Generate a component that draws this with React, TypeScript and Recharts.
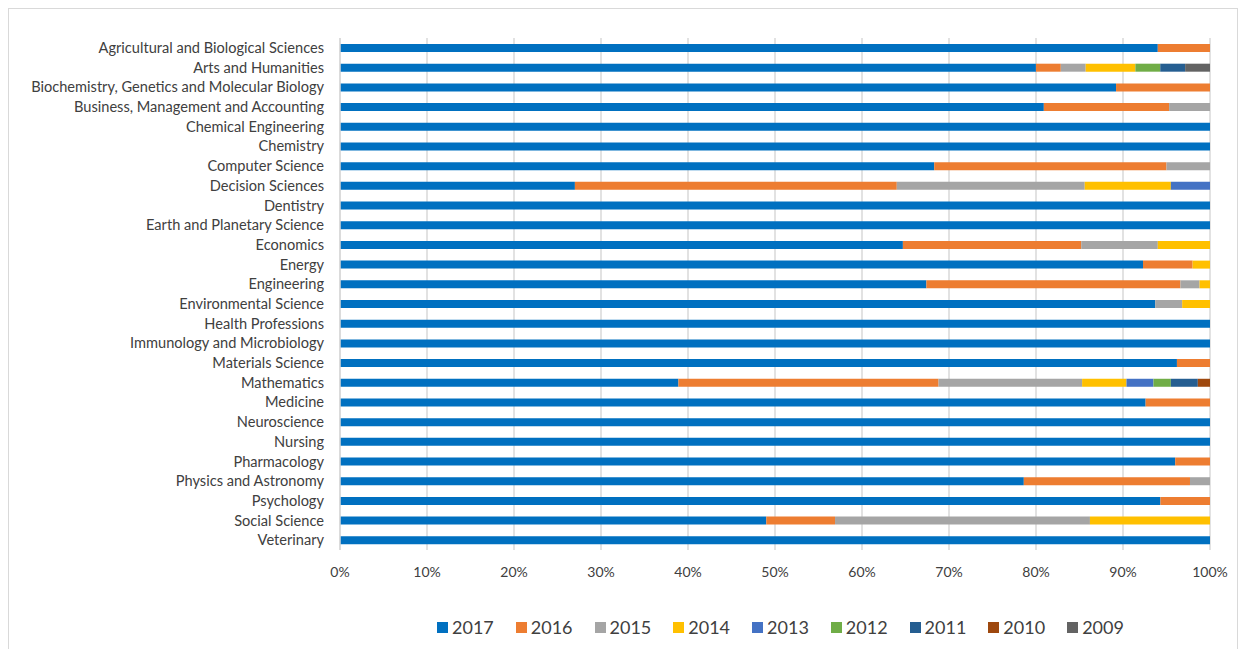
import { BarChart, Bar, XAxis, YAxis, CartesianGrid } from 'recharts';

const categories = [
  'Agricultural and Biological Sciences',
  'Arts and Humanities',
  'Biochemistry, Genetics and Molecular Biology',
  'Business, Management and Accounting',
  'Chemical Engineering',
  'Chemistry',
  'Computer Science',
  'Decision Sciences',
  'Dentistry',
  'Earth and Planetary Science',
  'Economics',
  'Energy',
  'Engineering',
  'Environmental Science',
  'Health Professions',
  'Immunology and Microbiology',
  'Materials Science',
  'Mathematics',
  'Medicine',
  'Neuroscience',
  'Nursing',
  'Pharmacology',
  'Physics and Astronomy',
  'Psychology',
  'Social Science',
  'Veterinary',
];

const y2017 = [94, 80, 89.2, 80.9, 100, 100, 68.3, 27, 100, 100, 64.7, 92.3, 67.4, 93.7, 100, 100, 96.2, 38.9, 92.6, 100, 100, 96, 78.6, 94.3, 49, 100];
const y2016 = [6, 2.86, 10.8, 14.4, 0, 0, 26.7, 37, 0, 0, 20.5, 5.7, 29.2, 0, 0, 0, 3.8, 29.9, 7.4, 0, 0, 4, 19.1, 5.7, 7.9, 0];
const y2015 = [0, 2.86, 0, 4.7, 0, 0, 5, 21.6, 0, 0, 8.8, 0, 2.2, 3.1, 0, 0, 0, 16.5, 0, 0, 0, 0, 2.3, 0, 29.3, 0];
const y2014 = [0, 5.71, 0, 0, 0, 0, 0, 9.9, 0, 0, 6, 2, 1.2, 3.2, 0, 0, 0, 5.1, 0, 0, 0, 0, 0, 0, 13.8, 0];
const y2013 = [0, 0, 0, 0, 0, 0, 0, 4.5, 0, 0, 0, 0, 0, 0, 0, 0, 0, 3.1, 0, 0, 0, 0, 0, 0, 0, 0];
const y2012 = [0, 2.86, 0, 0, 0, 0, 0, 0, 0, 0, 0, 0, 0, 0, 0, 0, 0, 2, 0, 0, 0, 0, 0, 0, 0, 0];
const y2011 = [0, 2.86, 0, 0, 0, 0, 0, 0, 0, 0, 0, 0, 0, 0, 0, 0, 0, 3.1, 0, 0, 0, 0, 0, 0, 0, 0];
const y2010 = [0, 0, 0, 0, 0, 0, 0, 0, 0, 0, 0, 0, 0, 0, 0, 0, 0, 1.4, 0, 0, 0, 0, 0, 0, 0, 0];
const y2009 = [0, 2.86, 0, 0, 0, 0, 0, 0, 0, 0, 0, 0, 0, 0, 0, 0, 0, 0, 0, 0, 0, 0, 0, 0, 0, 0];

const xTicks = [0, 0.1, 0.2, 0.3, 0.4, 0.5, 0.6, 0.7, 0.8, 0.9, 1];

const series = [
  { key: '2017', values: y2017, color: '#0070C0' },
  { key: '2016', values: y2016, color: '#ED7D31' },
  { key: '2015', values: y2015, color: '#A5A5A5' },
  { key: '2014', values: y2014, color: '#FFC000' },
  { key: '2013', values: y2013, color: '#4472C4' },
  { key: '2012', values: y2012, color: '#70AD47' },
  { key: '2011', values: y2011, color: '#255E91' },
  { key: '2010', values: y2010, color: '#9E480E' },
  { key: '2009', values: y2009, color: '#636363' },
];

const data = categories.map((name, i) => {
  const row: Record<string, string | number> = { name };
  series.forEach((s) => {
    row[s.key] = s.values[i];
  });
  return row;
});

const font = 'Lato, "Open Sans", sans-serif';

const App = () => {
  return (
    <div
      style={{
        position: 'relative',
        width: 1228,
        height: 660,
        border: '1px solid #d9d9d9',
        background: '#fff',
        fontFamily: font,
      }}
    >
      <BarChart
        width={1228}
        height={640}
        data={data}
        layout="vertical"
        stackOffset="expand"
        barSize={8}
        margin={{ top: 29, right: 27, left: 0, bottom: 69 }}
      >
        <CartesianGrid horizontal={false} stroke="#d9d9d9" strokeWidth={1.5} />
        <XAxis
          type="number"
          domain={[0, 1]}
          ticks={xTicks}
          tickFormatter={(v: number) => `${Math.round(v * 100)}%`}
          axisLine={false}
          tickLine={false}
          tickSize={0}
          tickMargin={17}
          height={30}
          tick={{ fill: '#404040', fontSize: 14, fontFamily: font }}
        />
        <YAxis
          type="category"
          dataKey="name"
          width={331}
          interval={0}
          tickLine={false}
          tickSize={0}
          tickMargin={16}
          axisLine={{ stroke: '#d9d9d9', strokeWidth: 1.5 }}
          tick={{ fill: '#404040', fontSize: 14.6, fontFamily: font }}
        />
        {series.map((s) => (
          <Bar
            key={s.key}
            dataKey={s.key}
            stackId="a"
            fill={s.color}
            isAnimationActive={false}
          />
        ))}
      </BarChart>
      <div
        style={{
          position: 'absolute',
          left: 428,
          top: 606,
          height: 24,
          display: 'flex',
          alignItems: 'center',
          gap: 22,
          fontSize: 18,
          color: '#404040',
        }}
      >
        {series.map((s) => (
          <div key={s.key} style={{ display: 'flex', alignItems: 'center' }}>
            <span style={{ width: 11, height: 11, background: s.color, marginRight: 4, display: 'inline-block' }} />
            <span>{s.key}</span>
          </div>
        ))}
      </div>
    </div>
  );
};

export default App;
